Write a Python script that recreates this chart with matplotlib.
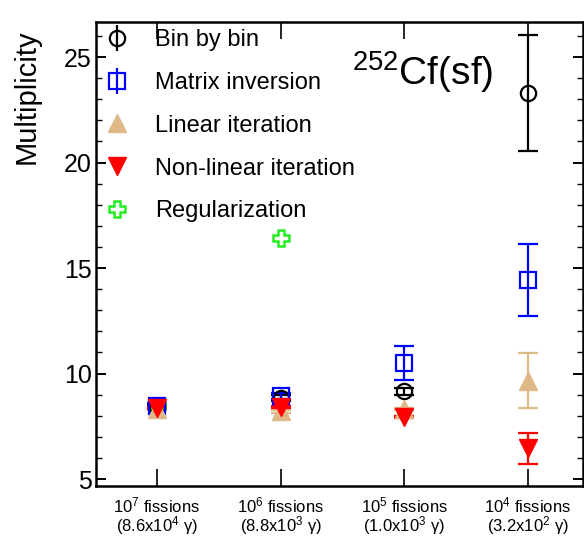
import numpy as np
import matplotlib.pyplot as plt
from matplotlib.lines import Line2D
from matplotlib.legend_handler import HandlerTuple
from matplotlib.ticker import MultipleLocator

plt.rcParams['font.family'] = ['Liberation Sans', 'DejaVu Sans']
plt.rcParams['mathtext.fontset'] = 'custom'
plt.rcParams['mathtext.rm'] = 'Liberation Sans'
plt.rcParams['mathtext.it'] = 'Liberation Sans:italic'

# data
categories = [r'10$^7$ fissions' + '\n' + r'(8.6x10$^4$ γ)',
              r'10$^6$ fissions' + '\n' + r'(8.8x10$^3$ γ)',
              r'10$^5$ fissions' + '\n' + r'(1.0x10$^3$ γ)',
              r'10$^4$ fissions' + '\n' + r'(3.2x10$^2$ γ)']
x = np.arange(1, 5)

bin_val = [8.4, 8.85, 9.15, 23.3]
bin_err = [0.1, 0.15, 0.15, 2.75]
mat_val = [8.45, 8.95, 10.5, 14.43]
mat_err = [0.15, 0.15, 0.8, 1.7]
lin_val = [8.3, 8.2, 8.3, 9.65]
lin_err = [0.05, 0.05, 0.05, 1.3]
nonlin_val = [8.35, 8.4, 7.95, 6.45]
nonlin_err = [0.05, 0.05, 0.05, 0.75]
reg_val = [8.45, 16.4, np.nan, np.nan]

tan = '#deb887'
green = '#22ee22'

fig = plt.figure(figsize=(5.84, 5.38), dpi=100)
ax = fig.add_axes([0.164, 0.0967, 0.834, 0.862])

ax.errorbar(x, bin_val, yerr=bin_err, fmt='o', ms=11, mfc='none', mec='k', mew=1.6,
            ecolor='k', elinewidth=1.6, capsize=7, capthick=1.6)
ax.errorbar(x, mat_val, yerr=mat_err, fmt='s', ms=11, mfc='none', mec='#0000ff', mew=1.6,
            ecolor='#0000ff', elinewidth=1.6, capsize=7, capthick=1.6)
ax.errorbar(x, lin_val, yerr=lin_err, fmt='^', ms=13, mfc=tan, mec=tan,
            ecolor=tan, elinewidth=1.6, capsize=7, capthick=1.6)
ax.errorbar(x, nonlin_val, yerr=nonlin_err, fmt='v', ms=13, mfc='#ff0000', mec='#ff0000',
            ecolor='#ff0000', elinewidth=1.6, capsize=7, capthick=1.6)
ax.plot(x, reg_val, 'P', ms=12, mfc='none', mec=green, mew=1.8, ls='none')

ax.set_xlim(0.505, 4.445)
ax.set_ylim(4.67, 26.65)
ax.set_xticks(x)
ax.set_xticklabels(categories, fontsize=12, linespacing=0.9)
ax.yaxis.set_major_locator(MultipleLocator(5))
ax.yaxis.set_minor_locator(MultipleLocator(1))
ax.tick_params(axis='y', which='major', direction='in', length=7, width=1.4,
               labelsize=18, right=True, pad=3)
ax.tick_params(axis='y', which='minor', direction='in', length=4, width=1.0, right=True)
ax.tick_params(axis='x', which='major', direction='in', length=12, width=1.2,
               top=True, pad=7)
for s in ax.spines.values():
    s.set_linewidth(1.8)

ax.set_ylabel('Multiplicity', fontsize=21, loc='top')
ax.yaxis.set_label_coords(-0.113, 0.985)

ax.text(0.527, 0.864, r'$^{252}$Cf(sf)', transform=ax.transAxes, fontsize=28,
        va='baseline', ha='left')

handles = [
    (Line2D([], [], marker='|', ms=19, mew=1.6, color='k', ls='none'),
     Line2D([], [], marker='o', ms=11, mfc='none', mec='k', mew=1.6, ls='none')),
    (Line2D([], [], marker='|', ms=19, mew=1.6, color='#0000ff', ls='none'),
     Line2D([], [], marker='s', ms=11, mfc='none', mec='#0000ff', mew=1.6, ls='none')),
    Line2D([], [], marker='^', ms=13, color=tan, ls='none'),
    Line2D([], [], marker='v', ms=13, color='#ff0000', ls='none'),
    Line2D([], [], marker='P', ms=12, mfc='none', mec=green, mew=1.8, ls='none'),
]
labels = ['Bin by bin', 'Matrix inversion', 'Linear iteration',
          'Non-linear iteration', 'Regularization']
ax.legend(handles, labels, loc='upper left', bbox_to_anchor=(-0.012, 1.006),
          frameon=False, fontsize=17, labelspacing=0.885, handletextpad=0.85,
          handlelength=1.5, borderaxespad=0.0, borderpad=0.4,
          handler_map={tuple: HandlerTuple(ndivide=1)})

fig.savefig('out.png', dpi=100)
